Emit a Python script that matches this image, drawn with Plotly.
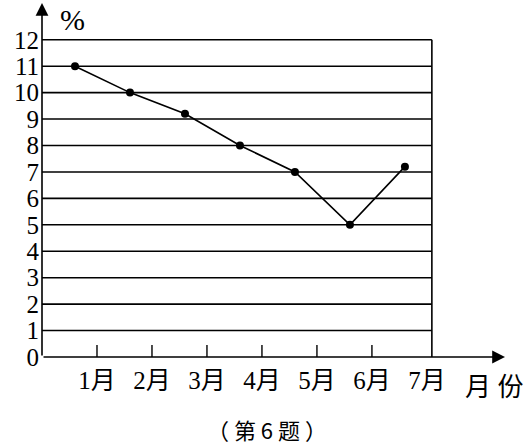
import plotly.graph_objects as go

months = ["1月", "2月", "3月", "4月", "5月", "6月", "7月"]
values = [11, 10, 9.2, 8, 7, 5, 7.2]
y_ticks = list(range(0, 13))

SERIF = "'Liberation Serif', 'Times New Roman', 'DejaVu Serif', 'Noto Sans CJK SC', serif"
CJK = "'Noto Sans CJK SC', sans-serif"
X_RIGHT = 7.09    # right border of the grid
X_MAX = 8.42      # x-axis arrow tip
Y_MAX = 13.39     # y-axis arrow tip

# point positions (between tick marks, derived from month index)
xs = [i + 0.6 for i in range(len(months))]

W, H = 525, 447
L, R, T, B = 42, 20, 3, 90
pw, ph = W - L - R, H - T - B

def px2paper(px, py):
    return (px - L) / pw, 1 - (py - T) / ph

fig = go.Figure()
fig.add_trace(go.Scatter(
    x=xs, y=values, mode="lines+markers",
    line=dict(color="black", width=1.6),
    marker=dict(color="black", size=8),
    showlegend=False, cliponaxis=False, hoverinfo="skip",
))

shapes = []
for v in y_ticks[1:]:
    shapes.append(dict(type="line", xref="x", yref="y", x0=0, x1=X_RIGHT, y0=v, y1=v,
                       line=dict(color="black", width=1.6)))
shapes.append(dict(type="line", xref="x", yref="y", x0=X_RIGHT, x1=X_RIGHT, y0=0, y1=12,
                   line=dict(color="black", width=1.6)))
for k in range(1, 7):
    shapes.append(dict(type="line", xref="x", yref="y", x0=k, x1=k, y0=0, y1=0.45,
                       line=dict(color="black", width=1.4)))

annotations = [
    dict(x=X_MAX, y=0, ax=0, ay=0, xref="x", yref="y", axref="x", ayref="y",
         showarrow=True, arrowhead=2, arrowsize=1.6, arrowwidth=1.6, arrowcolor="black", text=""),
    dict(x=0, y=Y_MAX, ax=0, ay=0, xref="x", yref="y", axref="x", ayref="y",
         showarrow=True, arrowhead=2, arrowsize=1.6, arrowwidth=1.6, arrowcolor="black", text=""),
]
texts = [
    ("%", 72, 20, 30, SERIF),
    ("月 份", 494, 388, 26, SERIF),
    ("（ 第 6 题 ）", 267, 429, 22, CJK),
]
for t, px, py, sz, fam in texts:
    x, y = px2paper(px, py)
    annotations.append(dict(x=x, y=y, xref="paper", yref="paper", text=t, showarrow=False,
                            xanchor="center", yanchor="middle",
                            font=dict(family=fam, size=sz, color="black")))

fig.update_layout(
    width=W, height=H,
    margin=dict(l=L, r=R, t=T, b=B, autoexpand=False),
    paper_bgcolor="white", plot_bgcolor="white",
    shapes=shapes, annotations=annotations,
    xaxis=dict(range=[0, X_MAX], showgrid=False, zeroline=False, showline=False,
               automargin=False, fixedrange=True,
               tickmode="array", tickvals=list(range(1, 8)), ticktext=months,
               ticks="", ticklabelstandoff=6,
               tickfont=dict(family=SERIF, size=25, color="black")),
    yaxis=dict(range=[0, Y_MAX], showgrid=False, zeroline=False, showline=False,
               automargin=False, fixedrange=True,
               tickmode="array", tickvals=y_ticks, ticktext=[str(v) for v in y_ticks],
               ticks="", ticklabelstandoff=2,
               tickfont=dict(family=SERIF, size=25, color="black")),
)

fig.write_html("out.html", config={"displayModeBar": False},
               post_script="document.body.style.margin='0';")
